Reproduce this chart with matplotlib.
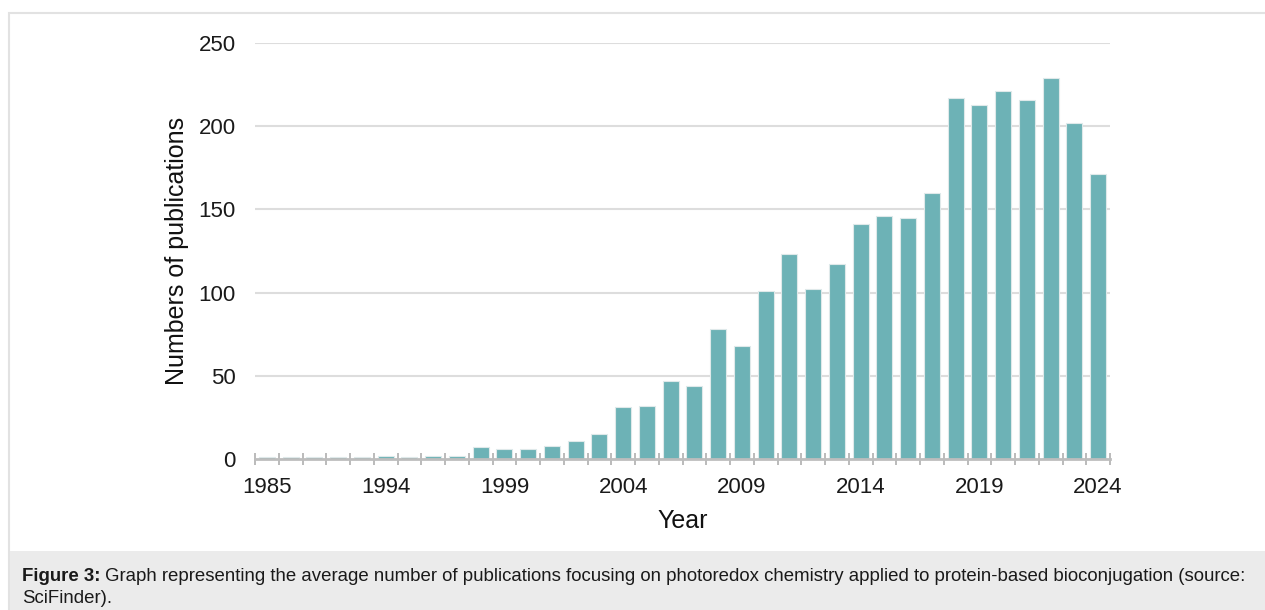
import matplotlib
matplotlib.use("Agg")
import matplotlib.pyplot as plt
from matplotlib.patches import Rectangle

# Data
years = ["1985", "1988", "1990", "1991", "1993",
         "1994", "1995", "1996", "1997", "1998", "1999", "2000", "2001", "2002",
         "2003", "2004", "2005", "2006", "2007", "2008", "2009", "2010", "2011",
         "2012", "2013", "2014", "2015", "2016", "2017", "2018", "2019", "2020",
         "2021", "2022", "2023", "2024"]
publications = [1, 1, 1, 1, 1,
                2, 1, 2, 2, 7, 6, 6, 8, 11,
                15, 31, 32, 47, 44, 78, 68, 101, 123,
                102, 117, 141, 146, 145, 160, 217, 213, 221,
                216, 229, 202, 171]
shown_labels = ["1985", "1994", "1999", "2004", "2009", "2014", "2019", "2024"]
y_ticks = [0, 50, 100, 150, 200, 250]

caption_bold = "Figure 3:"
caption_rest = (" Graph representing the average number of publications focusing on photoredox "
                "chemistry applied to protein-based bioconjugation (source:")
caption_line2 = "SciFinder)."

plt.rcParams['font.family'] = ['Liberation Sans', 'DejaVu Sans']

W, H = 1265, 610
fig = plt.figure(figsize=(W / 100, H / 100), dpi=100)

# frame and caption box (behind the axes)
fig.patches.append(Rectangle((9 / W, 0), 1.1, 1 - 13 / H, transform=fig.transFigure,
                             facecolor='white', edgecolor='#e2e2e2', lw=1.5, zorder=-2))
fig.patches.append(Rectangle((9.8 / W, 0), 1.1, 59 / H, transform=fig.transFigure,
                             facecolor='#ebebeb', edgecolor='none', zorder=-1))

ax = fig.add_axes([255 / W, 1 - 459 / H, (1110 - 255) / W, (459 - 43) / H])
ax.set_facecolor('none')

x = list(range(len(years)))
ax.bar(x, publications, width=0.68, color='#6db2b6', edgecolor='#dfe9ea', linewidth=0.8, zorder=3)

ax.set_xlim(-0.5, len(years) - 0.5)
ax.set_ylim(0, 250)

# y axis
ax.set_yticks(y_ticks)
ax.tick_params(axis='y', length=0, pad=14, labelsize=16, labelcolor='#1a1a1a')
for v in y_ticks[1:]:
    ax.axhline(v, color='#dddddd', lw=1.5, zorder=1)

# x axis: labels on every 5th bar, tick marks at category boundaries
ax.set_xticks([i for i, y in enumerate(years) if y in shown_labels])
ax.set_xticklabels(shown_labels)
ax.set_xticks([i - 0.5 for i in range(len(years) + 1)], minor=True)
ax.tick_params(axis='x', which='major', length=0, pad=13, labelsize=16, labelcolor='#1a1a1a')
ax.tick_params(axis='x', which='minor', direction='inout', length=9, width=1.3, color='#b5b5b5')

for s in ['top', 'right', 'left']:
    ax.spines[s].set_visible(False)
ax.spines['bottom'].set_color('#bdbdbd')
ax.spines['bottom'].set_linewidth(2)
ax.spines['bottom'].set_zorder(4)

ax.set_xlabel("Year", fontsize=18, labelpad=8, color='#111111')
ax.set_ylabel("Numbers of publications", fontsize=18, color='#111111')
ax.yaxis.set_label_coords(-0.077, 0.5)

# caption with bold lead-in
t1 = fig.text(22 / W, 1 - 581 / H, caption_bold, fontsize=13.4, fontweight='bold', color='#1a1a1a')
fig.canvas.draw()
bb = t1.get_window_extent()
fig.text(bb.x1 / W, 1 - 581 / H, caption_rest, fontsize=13.4, color='#1a1a1a')
fig.text(22 / W, 1 - 603 / H, caption_line2, fontsize=13.4, color='#1a1a1a')

fig.savefig("out.png", dpi=100)
